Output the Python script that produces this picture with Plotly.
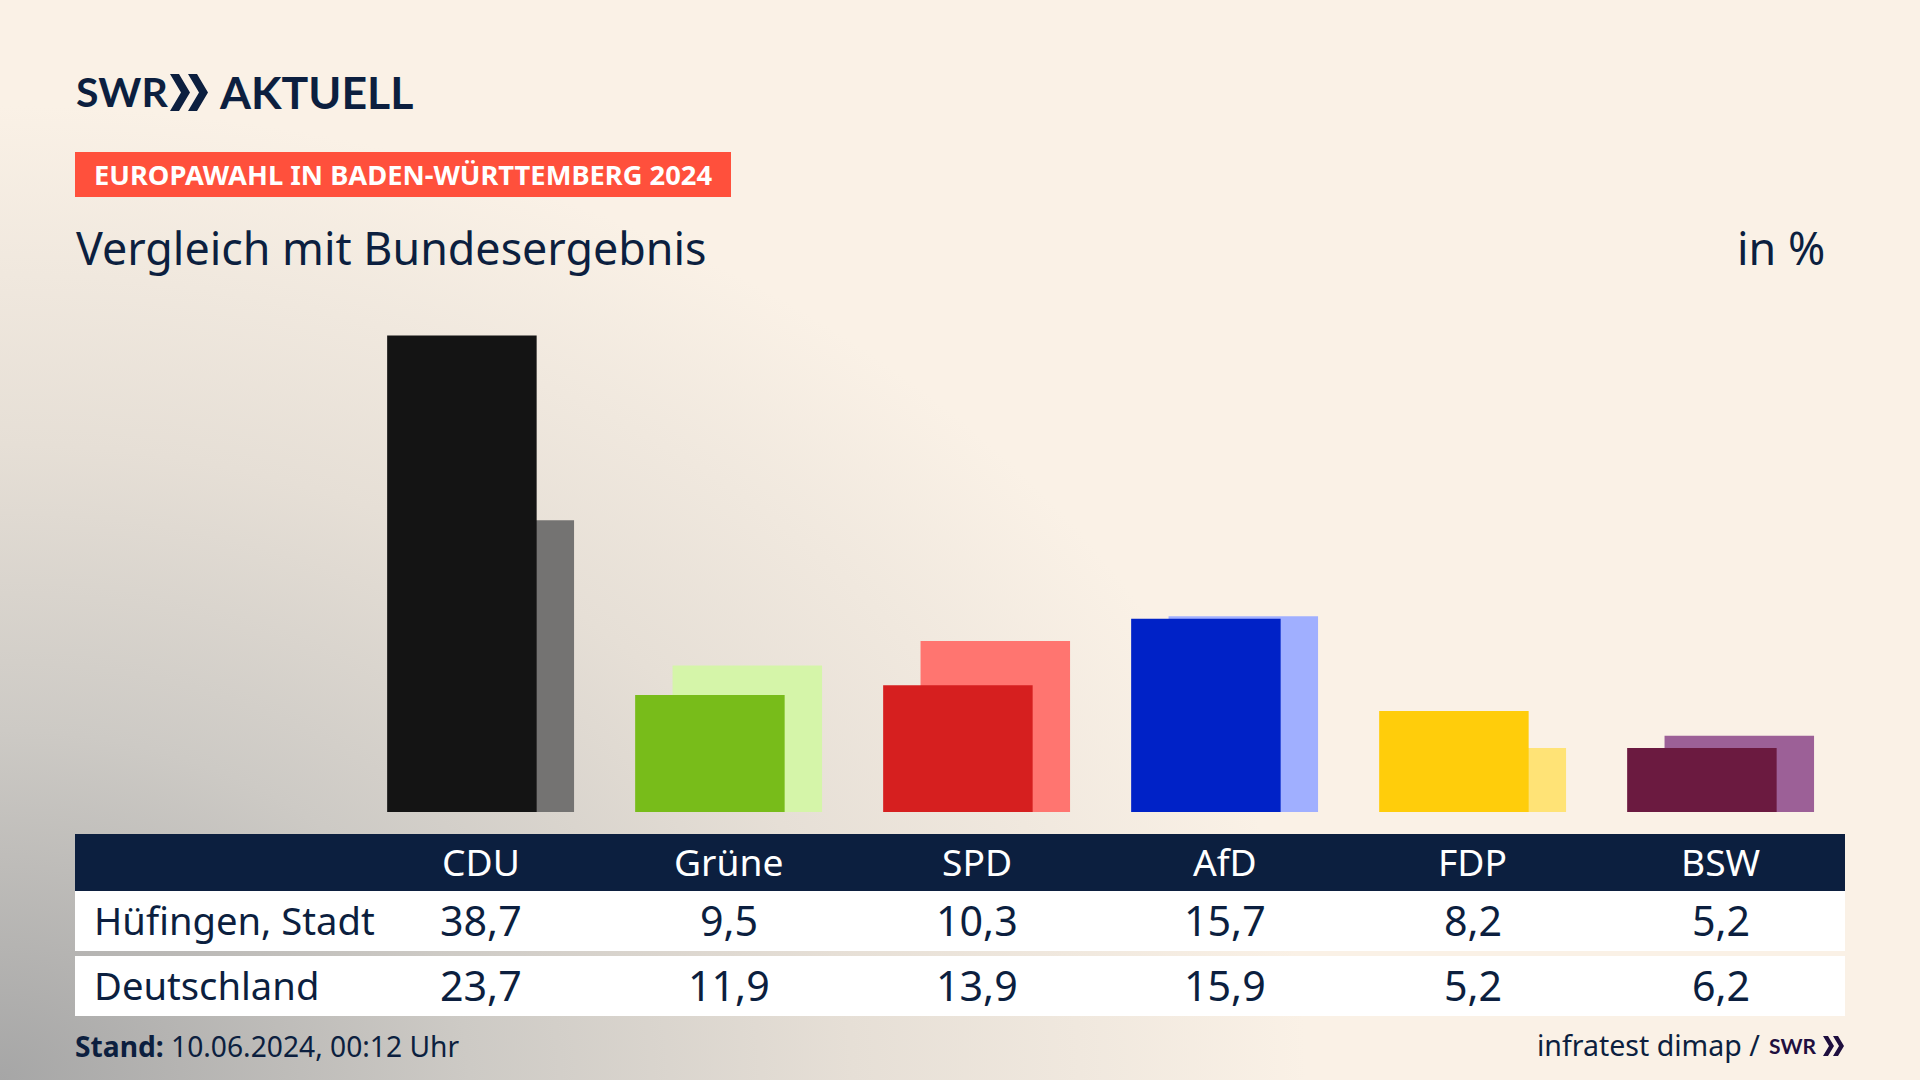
import base64
import plotly.graph_objects as go

parties = ["CDU", "Grüne", "SPD", "AfD", "FDP", "BSW"]
huefingen = [38.7, 9.5, 10.3, 15.7, 8.2, 5.2]
deutschland = [23.7, 11.9, 13.9, 15.9, 5.2, 6.2]
colors_front = ["#141414", "#78bc1a", "#d61f1f", "#0022c7", "#ffcd0b", "#6b1a40"]
colors_back = ["#747372", "#d5f5a9", "#ff7570", "#a0afff", "#ffe376", "#9c6097"]
row_labels = ["Hüfingen, Stadt", "Deutschland"]

W, H = 1920, 1080
NAVY = "#0c1f3f"
FONT = "Noto Sans"
LOGO = "Lato"


def fx(px):
    return px / W


def fy(py):
    return 1 - py / H


def fmt(v):
    return f"{v:.1f}".replace(".", ",")


# background
svg = f"""<svg xmlns='http://www.w3.org/2000/svg' width='{W}' height='{H}' viewBox='0 0 {W} {H}'>
<defs><radialGradient id='g' gradientUnits='userSpaceOnUse' cx='0' cy='0' r='1'
 gradientTransform='translate(0 {H}) scale(1420 1060)'>
<stop offset='0' stop-color='#a6a6a6'/>
<stop offset='0.33' stop-color='#cdcac5'/>
<stop offset='0.6' stop-color='#e6dfd6'/>
<stop offset='0.92' stop-color='#faf1e6'/>
</radialGradient></defs>
<rect width='{W}' height='{H}' fill='url(#g)'/></svg>"""
bg = "data:image/svg+xml;base64," + base64.b64encode(svg.encode()).decode()

fig = go.Figure()

# plot geometry
PLOT_L, PLOT_R, PLOT_T, PLOT_B = 375, 1845, 300, 812
CAT0_PX, CAT_STEP = 480.6, 248.0
PX_PER_UNIT = 12.31
BAR_W = 149.5 / CAT_STEP
SHIFT = 18.7 / CAT_STEP

fig.add_trace(go.Bar(x=parties, y=deutschland, name="Deutschland", width=BAR_W,
                     offset=-BAR_W / 2 + SHIFT, marker=dict(color=colors_back, line_width=0)))
fig.add_trace(go.Bar(x=parties, y=huefingen, name="Hüfingen, Stadt", width=BAR_W,
                     offset=-BAR_W / 2 - SHIFT, marker=dict(color=colors_front, line_width=0)))

shapes = []


def rect(x0, y0, x1, y1, color):
    shapes.append(dict(type="rect", xref="paper", yref="paper", x0=fx(x0), x1=fx(x1),
                       y0=fy(y0), y1=fy(y1), fillcolor=color, line_width=0, layer="below"))


def chevrons(x, y0, y1, w, t, gap, color):
    ym = (y0 + y1) / 2
    for i in range(2):
        a = x + i * gap
        pts = [(a, y0), (a + t, y0), (a + w, ym), (a + t, y1), (a, y1), (a + w - t, ym)]
        d = "M" + " L".join(f"{fx(p)},{fy(q)}" for p, q in pts) + " Z"
        shapes.append(dict(type="path", xref="paper", yref="paper", path=d, fillcolor=color,
                           line_width=0, layer="above"))


rect(75, 152, 731, 197, "#ff503c")
rect(75, 834, 1845, 891, NAVY)
rect(75, 891, 1845, 951, "#ffffff")
rect(75, 956, 1845, 1016, "#ffffff")
chevrons(170, 74, 111, 20, 9, 18, NAVY)
chevrons(1823, 1036, 1056, 11, 5, 10, "#1f0f3f")

ann = []


def text(px, py, s, size, color=NAVY, anchor="left", font=FONT):
    px = px - 2 if anchor == "left" else px + 2
    ann.append(dict(xref="paper", yref="paper", x=fx(px), y=fy(py), text=s, showarrow=False,
                    xanchor=anchor, yanchor="middle", align=anchor,
                    font=dict(family=font, size=size, color=color)))


def cell(cat, py, s, size, color=NAVY):
    ann.append(dict(xref="x", yref="paper", x=cat, y=fy(py), text=s, showarrow=False,
                    xanchor="center", yanchor="middle",
                    font=dict(family=FONT, size=size, color=color)))


text(76, 92, "<b>SWR</b>", 41, font=LOGO)
text(219, 92, "<b>AKTUELL</b>", 44.6, font=LOGO)
text(94, 175, "<b>EUROPAWAHL IN BADEN-WÜRTTEMBERG 2024</b>", 27.3, color="#ffffff")
text(76, 247, "Vergleich mit Bundesergebnis", 44.8)
text(1825, 247, "in %", 44.8, anchor="right")

text(94, 920, row_labels[0], 38.2)
text(94, 985, row_labels[1], 38.2)
for i, p in enumerate(parties):
    cell(p, 861, p, 37.2, "#ffffff")
    cell(p, 920, fmt(huefingen[i]), 41.2)
    cell(p, 985, fmt(deutschland[i]), 41.2)

text(75, 1046, "<b>Stand:</b> 10.06.2024, 00:12 Uhr", 28.2)
text(1760, 1045, "infratest dimap /", 28.5, anchor="right")
text(1769, 1045, "<b>SWR</b>", 21, color="#1f0f3f", font=LOGO)

fig.update_layout(
    width=W, height=H, margin=dict(l=0, r=0, t=0, b=0), autosize=False,
    paper_bgcolor="#faf1e6", plot_bgcolor="rgba(0,0,0,0)", showlegend=False, barmode="overlay",
    shapes=shapes, annotations=ann,
    images=[dict(source=bg, xref="paper", yref="paper", x=0, y=1, sizex=1, sizey=1,
                 sizing="stretch", xanchor="left", yanchor="top", layer="below")],
    xaxis=dict(domain=[fx(PLOT_L), fx(PLOT_R)], type="category", categoryorder="array",
               categoryarray=parties,
               range=[(PLOT_L - CAT0_PX) / CAT_STEP, (PLOT_R - CAT0_PX) / CAT_STEP],
               visible=False, fixedrange=True),
    yaxis=dict(domain=[fy(PLOT_B), fy(PLOT_T)], range=[0, (PLOT_B - PLOT_T) / PX_PER_UNIT],
               visible=False, fixedrange=True),
)

fig.write_html("out.html", config={"displayModeBar": False},
               post_script="document.body.style.margin='0';")
